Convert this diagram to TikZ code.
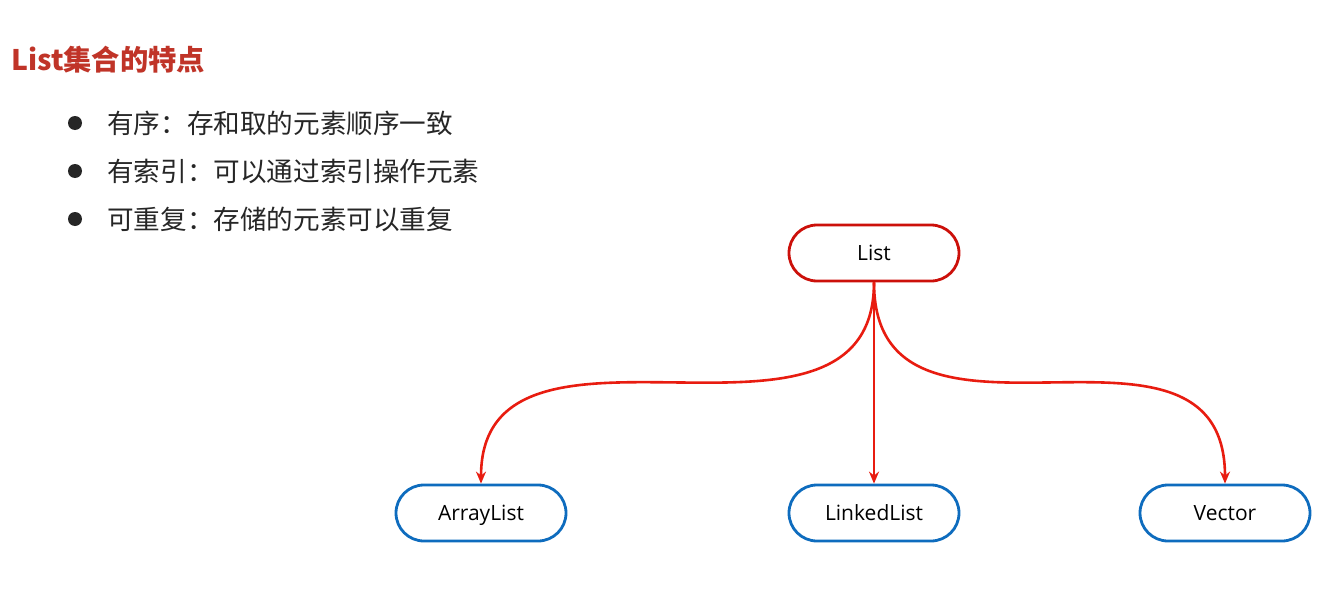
\documentclass[tikz,border=0pt]{standalone}
\usepackage{fontspec}
\setmainfont{Open Sans}
\newfontfamily\cjk{Noto Sans CJK SC}
\usetikzlibrary{arrows.meta}
\definecolor{titlered}{RGB}{192,52,40}
\definecolor{linkred}{RGB}{232,28,16}
\definecolor{boxred}{RGB}{204,16,10}
\definecolor{boxblue}{RGB}{14,108,190}
\definecolor{bodytext}{RGB}{38,38,38}
\begin{document}
\begin{tikzpicture}[x=1pt,y=-1pt,
  pill/.style={draw, line width=2.8pt, rounded corners=28pt, minimum width=170pt,
    minimum height=56pt, inner sep=0pt, fill=white,
    text height=16pt, text depth=1pt,
    font=\fontsize{21}{24}\selectfont, text=black},
  toppill/.style={pill, draw=boxred},
  leafpill/.style={pill, draw=boxblue},
  bullettext/.style={anchor=west, inner sep=0pt, text=bodytext,
    font=\cjk\fontsize{26.6}{30}\selectfont},
  dot/.style={circle, fill=bodytext, inner sep=0pt, minimum size=14pt},
  link/.style={draw=linkred, line width=2.6pt,
    -{Stealth[length=12pt,width=10pt]}}]
\useasboundingbox[fill=white] (0,0) rectangle (1342,597);

% heading
\node[anchor=west, inner sep=0pt, text=titlered,
  font=\cjk\bfseries\fontsize{28.3}{32}\selectfont] (title) at (11,60) {List集合的特点};

% bullet list
\node[dot] (d1) at (75,123) {};
\node[bullettext] (t1) at (107,123) {有序：存和取的元素顺序一致};
\node[dot] (d2) at (75,171) {};
\node[bullettext] (t2) at (107,171) {有索引：可以通过索引操作元素};
\node[dot] (d3) at (75,219) {};
\node[bullettext] (t3) at (107,219) {可重复：存储的元素可以重复};

% hierarchy
\node[toppill] (list) at (874,253) {List};
\node[leafpill] (arr) at (481,513) {ArrayList};
\node[leafpill] (lnk) at (874,513) {LinkedList};
\node[leafpill] (vec) at (1225,513) {Vector};

\draw[link] (list.south) .. controls (874,485) and (481,282) .. (arr.north);
\draw[link] (list.south) -- (lnk.north);
\draw[link] (list.south) .. controls (874,485) and (1225,282) .. (vec.north);
\end{tikzpicture}
\end{document}
